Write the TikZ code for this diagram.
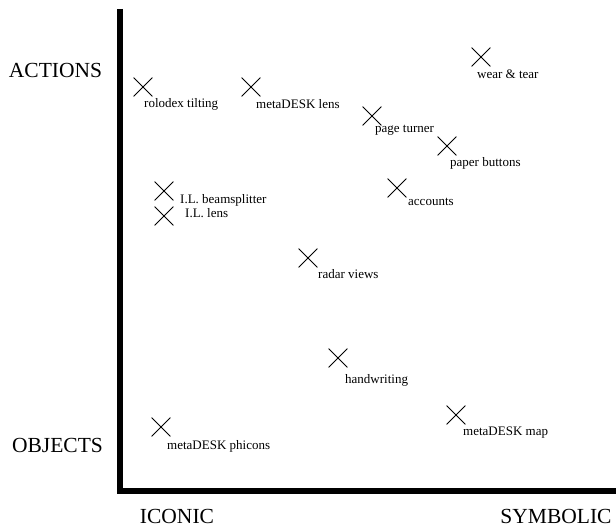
\documentclass[tikz,border=0pt]{standalone}
\usepackage{fontspec}
\setmainfont{Liberation Serif}
\usetikzlibrary{shapes.misc}
\begin{document}
\begin{tikzpicture}[x=1pt,y=-1pt,
  xmark/.style={draw, cross out, minimum size=18pt, inner sep=0pt, line width=0.8pt},
  lbl/.style={anchor=west, inner sep=0pt, font=\fontsize{13}{15}\selectfont},
  axlbl/.style={inner sep=0pt, font=\fontsize{21.5}{24}\selectfont},
  axis/.style={line width=6pt}]
\useasboundingbox (0,0) rectangle (616,527);
% axes
\coordinate (top) at (120,9);
\coordinate (origin) at (120,491);
\coordinate (right) at (616,491);
\draw[axis] (top) -- (origin.center) -- (right);
\node[axlbl] (actions) at (55.5,70) {ACTIONS};
\node[axlbl] (objects) at (57.5,445) {OBJECTS};
\node[axlbl] (iconic) at (177,516) {ICONIC};
\node[axlbl] (symbolic) at (556,516) {SYMBOLIC};
% points
\node[xmark] (x1) at (143,87) {};
\node[lbl] (l1) at (144,104) {rolodex tilting};
\node[xmark] (x2) at (251,87) {};
\node[lbl] (l2) at (256,104) {metaDESK lens};
\node[xmark] (x3) at (164,191) {};
\node[lbl] (l3) at (180,200) {I.L. beamsplitter};
\node[xmark] (x4) at (164,216) {};
\node[lbl] (l4) at (185,213) {I.L. lens};
\node[xmark] (x5) at (481,57) {};
\node[lbl] (l5) at (477,74) {wear \& tear};
\node[xmark] (x6) at (372,116) {};
\node[lbl] (l6) at (375,130) {page turner};
\node[xmark] (x7) at (447,146) {};
\node[lbl] (l7) at (450,163) {paper buttons};
\node[xmark] (x8) at (397,188) {};
\node[lbl] (l8) at (408,202) {accounts};
\node[xmark] (x9) at (308,258) {};
\node[lbl] (l9) at (318,274) {radar views};
\node[xmark] (x10) at (338,358) {};
\node[lbl] (l10) at (345,380) {handwriting};
\node[xmark] (x11) at (456,415) {};
\node[lbl] (l11) at (463,433) {metaDESK map};
\node[xmark] (x12) at (161,427) {};
\node[lbl] (l12) at (167,446) {metaDESK phicons};
\end{tikzpicture}
\end{document}
